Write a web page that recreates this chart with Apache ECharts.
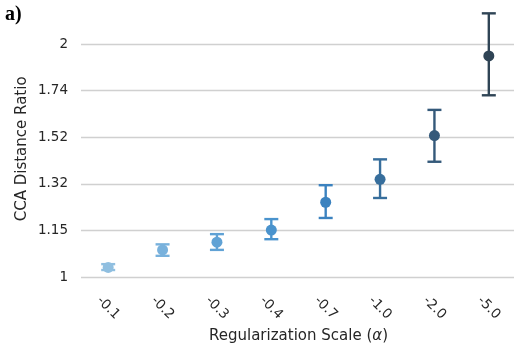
<!DOCTYPE html>
<html>
<head>
<meta charset="utf-8">
<script src="https://cdn.jsdelivr.net/npm/echarts@6/dist/echarts.min.js"></script>
<style>
  html, body { margin: 0; padding: 0; background: #fff; }
  #chart { width: 514px; height: 345px; }
</style>
</head>
<body>
<div id="chart"></div>
<script>
// Regularization scales (x categories)
const scales = ['-0.1', '-0.2', '-0.3', '-0.4', '-0.7', '-1.0', '-2.0', '-5.0'];
// Mean CCA distance ratio per scale
const ratioMean = [1.029, 1.084, 1.109, 1.150, 1.249, 1.337, 1.523, 1.930];
// Lower / upper ends of the error bars
const ratioLow  = [1.021, 1.065, 1.084, 1.119, 1.192, 1.265, 1.409, 1.717];
const ratioHigh = [1.039, 1.102, 1.136, 1.188, 1.314, 1.419, 1.644, 2.191];
// One colour per scale, light to dark blue
const palette = ['#90bfe0', '#78b1dc', '#60a2d5', '#4a93cd', '#3b82bf', '#376e9c', '#34597a', '#2f4455'];

const chart = echarts.init(document.getElementById('chart'), null, { renderer: 'canvas' });

const textColor = '#262626';
const fontFamily = '"DejaVu Sans", sans-serif';

// log axis with ticks at 2^(k/5)
const logBase = Math.pow(2, 0.2);
const yMin = Math.pow(logBase, -0.5);
const yMax = Math.pow(logBase, 6);

const rows = scales.map((s, i) => [i, ratioMean[i], ratioLow[i], ratioHigh[i]]);

chart.setOption({
  animation: false,
  backgroundColor: '#ffffff',
  graphic: [{
    type: 'text',
    left: 5,
    top: 5,
    style: {
      text: 'a)',
      font: 'bold 20px "Liberation Serif", "Times New Roman", serif',
      fill: '#000'
    }
  }],
  grid: { left: 81, right: -2, top: -2.6, bottom: 44.7, containLabel: false, outerBoundsMode: 'none' },
  xAxis: {
    type: 'category',
    data: scales,
    boundaryGap: true,
    axisLine: { show: false },
    axisTick: { show: false },
    splitLine: { show: false },
    axisLabel: {
      rotate: -45,
      align: 'center',
      verticalAlign: 'middle',
      margin: 7.5,
      fontSize: 13.5,
      fontFamily: fontFamily,
      color: textColor
    },
    name: 'Regularization Scale ({i|α})',
    nameLocation: 'middle',
    nameGap: 25,
    nameTextStyle: {
      fontSize: 15,
      fontFamily: fontFamily,
      color: textColor,
      verticalAlign: 'top',
      rich: {
        i: { fontSize: 15, fontFamily: fontFamily, fontStyle: 'italic', color: textColor }
      }
    }
  },
  yAxis: {
    type: 'log',
    logBase: logBase,
    min: yMin,
    max: yMax,
    axisLine: { show: false },
    axisTick: { show: false },
    splitLine: {
      show: true,
      showMinLine: false,
      showMaxLine: false,
      lineStyle: { color: '#d0d0d0', width: 1.3 }
    },
    axisLabel: {
      showMinLabel: false,
      showMaxLabel: false,
      margin: 13,
      fontSize: 13.5,
      fontFamily: fontFamily,
      color: textColor,
      formatter: v => String(parseFloat(v.toFixed(2)))
    },
    name: 'CCA Distance Ratio',
    nameLocation: 'middle',
    nameMoveOverlap: false,
    nameGap: 51,
    nameTextStyle: { fontSize: 15, fontFamily: fontFamily, color: textColor }
  },
  series: [{
    type: 'custom',
    data: rows,
    encode: { x: 0, y: [1, 2, 3] },
    renderItem: function (params, api) {
      const idx = api.value(0);
      const mid = api.coord([idx, api.value(1)]);
      const lo = api.coord([idx, api.value(2)]);
      const hi = api.coord([idx, api.value(3)]);
      const color = palette[params.dataIndex];
      const cap = 7;
      const lw = 2.4;
      return {
        type: 'group',
        children: [
          { type: 'line', shape: { x1: lo[0], y1: lo[1], x2: hi[0], y2: hi[1] }, style: { stroke: color, lineWidth: lw } },
          { type: 'line', shape: { x1: lo[0] - cap, y1: lo[1], x2: lo[0] + cap, y2: lo[1] }, style: { stroke: color, lineWidth: lw } },
          { type: 'line', shape: { x1: hi[0] - cap, y1: hi[1], x2: hi[0] + cap, y2: hi[1] }, style: { stroke: color, lineWidth: lw } },
          { type: 'circle', shape: { cx: mid[0], cy: mid[1], r: 5.5 }, style: { fill: color } }
        ]
      };
    }
  }]
});
</script>
</body>
</html>
